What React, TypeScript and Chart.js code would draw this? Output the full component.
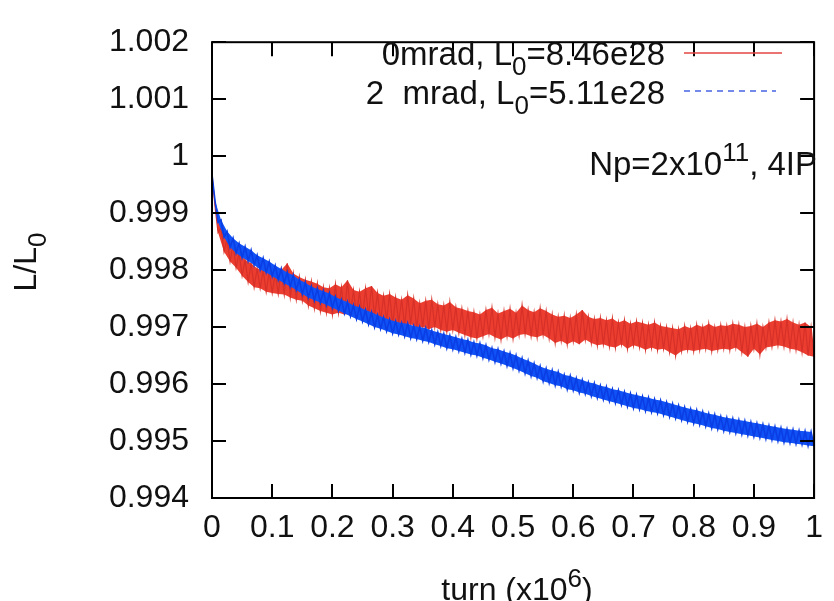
import React, { useEffect, useRef } from 'react';
import { Chart, registerables } from 'chart.js';

Chart.register(...registerables);

// ---------- data ----------
// sampling step of the turn axis (x10^6 turns)
const turnStep = 0.005;

const xTicks = [0, 0.1, 0.2, 0.3, 0.4, 0.5, 0.6, 0.7, 0.8, 0.9, 1];
const xTickLabels = ['0', '0.1', '0.2', '0.3', '0.4', '0.5', '0.6', '0.7', '0.8', '0.9', '1'];
const yTicks = [0.994, 0.995, 0.996, 0.997, 0.998, 0.999, 1, 1.001, 1.002];
const yTickLabels = ['0.994', '0.995', '0.996', '0.997', '0.998', '0.999', '1', '1.001', '1.002'];

const seriesNames = ['0mrad', '2  mrad'];
const seriesL0 = ['8.46e28', '5.11e28'];

// 0 mrad crossing angle (red)
const redValues = [
  0.99968, 0.99912, 0.99866, 0.99875, 0.99832, 0.99855, 0.99815, 0.99845, 0.99804, 0.99830,
  0.99790, 0.99818, 0.99779, 0.99812, 0.99770, 0.99803, 0.99768, 0.99800, 0.99762, 0.99797,
  0.99760, 0.99795, 0.99758, 0.99800, 0.99757, 0.99812, 0.99752, 0.99794, 0.99748, 0.99788,
  0.99746, 0.99783, 0.99738, 0.99780, 0.99733, 0.99776, 0.99728, 0.99770, 0.99725, 0.99768,
  0.99722, 0.99775, 0.99725, 0.99770, 0.99722, 0.99782, 0.99724, 0.99765, 0.99720, 0.99762,
  0.99716, 0.99768, 0.99720, 0.99772, 0.99718, 0.99760, 0.99710, 0.99755, 0.99712, 0.99758,
  0.99705, 0.99752, 0.99708, 0.99748, 0.99702, 0.99756, 0.99705, 0.99750, 0.99698, 0.99742,
  0.99700, 0.99746, 0.99696, 0.99748, 0.99700, 0.99740, 0.99695, 0.99738, 0.99692, 0.99744,
  0.99695, 0.99735, 0.99690, 0.99732, 0.99686, 0.99728, 0.99682, 0.99726, 0.99680, 0.99722,
  0.99684, 0.99730, 0.99688, 0.99734, 0.99682, 0.99724, 0.99678, 0.99728, 0.99684, 0.99732,
  0.99680, 0.99725, 0.99686, 0.99738, 0.99688, 0.99730, 0.99684, 0.99726, 0.99682, 0.99733,
  0.99686, 0.99728, 0.99680, 0.99722, 0.99672, 0.99718, 0.99676, 0.99720, 0.99670, 0.99716,
  0.99675, 0.99722, 0.99670, 0.99730, 0.99678, 0.99718, 0.99672, 0.99714, 0.99668, 0.99716,
  0.99670, 0.99712, 0.99666, 0.99715, 0.99664, 0.99708, 0.99670, 0.99712, 0.99662, 0.99706,
  0.99668, 0.99710, 0.99665, 0.99707, 0.99660, 0.99704, 0.99664, 0.99708, 0.99660, 0.99702,
  0.99662, 0.99700, 0.99656, 0.99698, 0.99650, 0.99696, 0.99658, 0.99702, 0.99660, 0.99698,
  0.99658, 0.99704, 0.99660, 0.99700, 0.99662, 0.99706, 0.99658, 0.99700, 0.99660, 0.99703,
  0.99662, 0.99702, 0.99660, 0.99706, 0.99664, 0.99704, 0.99656, 0.99700, 0.99648, 0.99702,
  0.99662, 0.99706, 0.99652, 0.99700, 0.99664, 0.99708, 0.99666, 0.99712, 0.99668, 0.99710,
  0.99666, 0.99714, 0.99662, 0.99708, 0.99660, 0.99704, 0.99656, 0.99708, 0.99650, 0.99700,
  0.99648,
];

// 2 mrad crossing angle (blue)
const blueValues = [
  0.99968, 0.99922, 0.99884, 0.99888, 0.99858, 0.99868, 0.99840, 0.99856, 0.99830, 0.99847,
  0.99822, 0.99841, 0.99816, 0.99835, 0.99809, 0.99826, 0.99801, 0.99821, 0.99796, 0.99815,
  0.99789, 0.99808, 0.99783, 0.99802, 0.99777, 0.99796, 0.99771, 0.99791, 0.99765, 0.99783,
  0.99758, 0.99778, 0.99752, 0.99771, 0.99747, 0.99767, 0.99743, 0.99763, 0.99739, 0.99759,
  0.99734, 0.99753, 0.99729, 0.99748, 0.99724, 0.99744, 0.99719, 0.99738, 0.99714, 0.99735,
  0.99710, 0.99730, 0.99705, 0.99726, 0.99700, 0.99721, 0.99697, 0.99717, 0.99693, 0.99713,
  0.99689, 0.99710, 0.99687, 0.99707, 0.99684, 0.99706, 0.99681, 0.99702, 0.99679, 0.99700,
  0.99676, 0.99698, 0.99674, 0.99694, 0.99670, 0.99691, 0.99667, 0.99688, 0.99663, 0.99685,
  0.99661, 0.99682, 0.99658, 0.99679, 0.99655, 0.99677, 0.99652, 0.99673, 0.99650, 0.99671,
  0.99646, 0.99668, 0.99643, 0.99663, 0.99639, 0.99661, 0.99636, 0.99657, 0.99632, 0.99654,
  0.99628, 0.99650, 0.99624, 0.99645, 0.99619, 0.99641, 0.99614, 0.99636, 0.99611, 0.99631,
  0.99605, 0.99627, 0.99602, 0.99624, 0.99598, 0.99621, 0.99596, 0.99616, 0.99591, 0.99614,
  0.99589, 0.99610, 0.99585, 0.99607, 0.99583, 0.99603, 0.99579, 0.99601, 0.99576, 0.99597,
  0.99573, 0.99595, 0.99570, 0.99591, 0.99567, 0.99589, 0.99564, 0.99586, 0.99561, 0.99583,
  0.99558, 0.99581, 0.99556, 0.99578, 0.99553, 0.99576, 0.99551, 0.99573, 0.99549, 0.99571,
  0.99546, 0.99568, 0.99543, 0.99565, 0.99540, 0.99562, 0.99537, 0.99559, 0.99534, 0.99556,
  0.99531, 0.99554, 0.99529, 0.99551, 0.99526, 0.99548, 0.99523, 0.99546, 0.99521, 0.99543,
  0.99518, 0.99541, 0.99516, 0.99539, 0.99514, 0.99537, 0.99512, 0.99535, 0.99510, 0.99533,
  0.99508, 0.99531, 0.99506, 0.99529, 0.99504, 0.99527, 0.99502, 0.99525, 0.99500, 0.99523,
  0.99498, 0.99521, 0.99497, 0.99520, 0.99495, 0.99518, 0.99494, 0.99517, 0.99492, 0.99516,
  0.99491,
];

// ---------- styling ----------
const FAMILY = '"Liberation Sans", Arial, Helvetica, sans-serif';
const FONT_SIZE = 32;
const LEGEND_SIZE = 33;
const TEXT = '#111111';
const RED_FILL = 'rgb(236,62,48)';
const RED_LINE = 'rgb(214,48,40)';
const BLUE_FILL = 'rgb(16,82,246)';
const BLUE_LINE = 'rgb(10,62,228)';

type Seg = { t: string; kind?: 'sub' | 'sup' };

function drawSegs(
  ctx: CanvasRenderingContext2D,
  segs: Seg[],
  x: number,
  y: number,
  size: number,
  align: 'left' | 'right' | 'center'
) {
  const small = Math.round(size * 0.8);
  const fontOf = (s: Seg) => `${s.kind ? small : size}px ${FAMILY}`;
  const widths = segs.map((s) => {
    ctx.font = fontOf(s);
    return ctx.measureText(s.t).width;
  });
  const total = widths.reduce((a, b) => a + b, 0);
  let cx = align === 'right' ? x - total : align === 'center' ? x - total / 2 : x;
  ctx.textAlign = 'left';
  ctx.textBaseline = 'alphabetic';
  ctx.fillStyle = TEXT;
  segs.forEach((s, i) => {
    ctx.font = fontOf(s);
    const dy = s.kind === 'sub' ? size * 0.3 : s.kind === 'sup' ? -size * 0.42 : 0;
    ctx.fillText(s.t, cx, y + dy);
    cx += widths[i];
  });
}

const framePlugin = {
  id: 'gnuplotFrame',
  afterDatasetsDraw(chart: any) {
    const { ctx, chartArea } = chart;
    const { left, right, top, bottom } = chartArea;
    const xs = chart.scales.x;
    const ys = chart.scales.y;
    ctx.save();
    ctx.strokeStyle = '#000';
    ctx.lineWidth = 2;
    ctx.lineCap = 'butt';
    ctx.strokeRect(left, top, right - left, bottom - top);
    const tl = 14;
    ctx.beginPath();
    yTicks.forEach((v) => {
      const py = Math.round(ys.getPixelForValue(v));
      ctx.moveTo(left, py);
      ctx.lineTo(left + tl, py);
      ctx.moveTo(right, py);
      ctx.lineTo(right - tl, py);
    });
    xTicks.forEach((v) => {
      const px = Math.round(xs.getPixelForValue(v));
      ctx.moveTo(px, bottom);
      ctx.lineTo(px, bottom - tl);
      ctx.moveTo(px, top);
      ctx.lineTo(px, top + tl);
    });
    ctx.stroke();

    // legend (top right, text right-aligned, sample to the right)
    const legendY = [65, 104];
    const sampleY = [53, 91];
    const colors = ['rgb(226,70,66)', 'rgb(70,100,228)'];
    seriesNames.forEach((name, i) => {
      drawSegs(
        ctx,
        [{ t: `${name}, L` }, { t: '0', kind: 'sub' }, { t: `=${seriesL0[i]}` }],
        665,
        legendY[i],
        LEGEND_SIZE,
        'right'
      );
      ctx.beginPath();
      ctx.strokeStyle = colors[i];
      ctx.lineWidth = 1.5;
      ctx.setLineDash(i === 1 ? [6, 5] : []);
      ctx.moveTo(684, sampleY[i]);
      ctx.lineTo(i === 1 ? 776 : 782, sampleY[i]);
      ctx.stroke();
      ctx.setLineDash([]);
    });

    // annotation
    drawSegs(
      ctx,
      [{ t: 'Np=2x10' }, { t: '11', kind: 'sup' }, { t: ', 4IP' }],
      817,
      175,
      LEGEND_SIZE,
      'right'
    );

    // x title
    drawSegs(ctx, [{ t: 'turn (x10' }, { t: '6', kind: 'sup' }, { t: ')' }], 517, 600, FONT_SIZE, 'center');

    // y title (rotated)
    ctx.save();
    ctx.translate(36, 262);
    ctx.rotate(-Math.PI / 2);
    drawSegs(ctx, [{ t: 'L/L' }, { t: '0', kind: 'sub' }], 0, 0, FONT_SIZE, 'center');
    ctx.restore();

    ctx.restore();
  },
};

type Pt = { x: number; y: number };

// the noisy trace plus a filled band between its upper and lower excursions
function seriesDatasets(
  values: number[],
  turns: number[],
  label: string,
  fill: string,
  line: string,
  order: number,
  lineWidth: number
) {
  const pts: Pt[] = turns.map((t, i) => ({ x: t, y: values[i] }));
  const last = pts.length - 1;
  const upper = pts.filter((_, i) => i === 0 || i === last || i % 2 === 1);
  const lower = pts.filter((_, i) => i === 0 || i === last || i % 2 === 0);
  const common = { pointRadius: 0, tension: 0, borderWidth: 0 };
  return [
    { ...common, label, data: pts, borderColor: line, backgroundColor: line, borderWidth: lineWidth, fill: false, order },
    { ...common, label: label + ' upper', data: upper, borderColor: fill, backgroundColor: fill, fill: '+1', order: order + 1 },
    { ...common, label: label + ' lower', data: lower, borderColor: fill, backgroundColor: fill, fill: false, order: order + 1 },
  ];
}

export default function App() {
  const ref = useRef<HTMLCanvasElement>(null);

  useEffect(() => {
    const canvas = ref.current;
    if (!canvas) return;
    const turns = redValues.map((_, i) => +(i * turnStep).toFixed(3));
    const tickFont = { family: FAMILY, size: FONT_SIZE };
    const datasets = [
      ...seriesDatasets(blueValues, turns, `${seriesNames[1]}, L0=${seriesL0[1]}`, BLUE_FILL, BLUE_LINE, 0, 1.6),
      ...seriesDatasets(redValues, turns, `${seriesNames[0]}, L0=${seriesL0[0]}`, RED_FILL, RED_LINE, 2, 1.2),
    ];
    const chart = new Chart(canvas, {
      type: 'line',
      data: { datasets },
      options: {
        responsive: false,
        animation: false,
        devicePixelRatio: 1,
        events: [],
        layout: { padding: { left: 0, right: 11, top: 22, bottom: 0 } },
        plugins: {
          legend: { display: false },
          tooltip: { enabled: false },
          filler: { propagate: false },
        },
        scales: {
          x: {
            type: 'linear',
            min: 0,
            max: 1,
            afterFit: (s: any) => {
              s.height = 103;
            },
            afterBuildTicks: (s: any) => {
              s.ticks = xTicks.map((v) => ({ value: v }));
            },
            grid: { display: false, drawTicks: false },
            border: { display: false },
            ticks: {
              autoSkip: false,
              maxRotation: 0,
              minRotation: 0,
              padding: 11,
              color: TEXT,
              font: tickFont,
              callback: (_v: any, i: number) => xTickLabels[i],
            },
          },
          y: {
            type: 'linear',
            min: 0.994,
            max: 1.002,
            afterFit: (s: any) => {
              s.width = 212;
            },
            afterBuildTicks: (s: any) => {
              s.ticks = yTicks.map((v) => ({ value: v }));
            },
            grid: { display: false, drawTicks: false },
            border: { display: false },
            ticks: {
              autoSkip: false,
              padding: 23,
              color: TEXT,
              font: tickFont,
              callback: (_v: any, i: number) => yTickLabels[i],
            },
          },
        },
      } as any,
      plugins: [framePlugin],
    });
    return () => chart.destroy();
  }, []);

  return (
    <div style={{ position: 'fixed', left: 0, top: 0, width: 834, height: 601, background: '#fff' }}>
      <canvas ref={ref} width={834} height={601} style={{ display: 'block', width: 834, height: 601 }} />
    </div>
  );
}
